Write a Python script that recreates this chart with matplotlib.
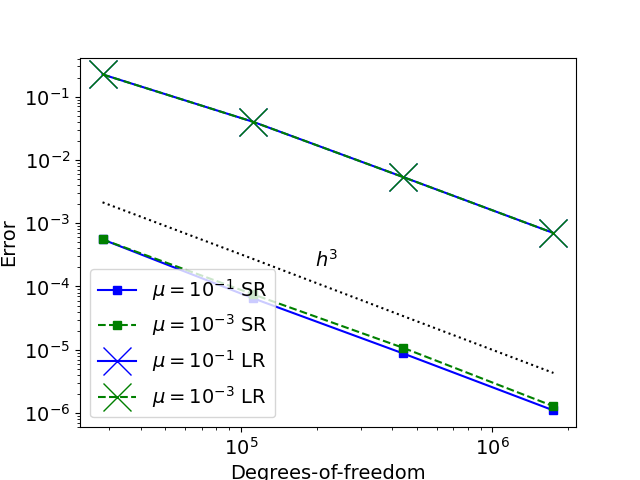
import matplotlib
matplotlib.use("Agg")
import matplotlib.pyplot as plt

plt.rcParams["font.size"] = 14

# degrees of freedom for the four refinement levels
dofs = [2.82e4, 1.12e5, 4.4e5, 1.75e6]

# short-range (SR) errors
sr_mu1 = [5.55e-4, 6.5e-5, 8.8e-6, 1.1e-6]
sr_mu3 = [5.55e-4, 7.5e-5, 1.08e-5, 1.28e-6]

# long-range (LR) errors
lr_mu1 = [0.225, 0.040, 0.0054, 7.0e-4]
lr_mu3 = [0.225, 0.040, 0.0054, 7.0e-4]

# reference slope h^3
ref_h3 = [2.14e-3, 2.72e-4, 3.43e-5, 4.3e-6]

fig, ax = plt.subplots(figsize=(6.4, 4.8), dpi=100)

ax.loglog(dofs, sr_mu1, "b-s", label=r"$\mu=10^{-1}$ SR")
ax.loglog(dofs, sr_mu3, "g--s", label=r"$\mu=10^{-3}$ SR")
ax.loglog(dofs, lr_mu1, "b-x", ms=20, label=r"$\mu=10^{-1}$ LR")
ax.loglog(dofs, lr_mu3, "g--x", ms=20, label=r"$\mu=10^{-3}$ LR")
ax.loglog(dofs, ref_h3, "k:")
ax.text(2.2e5, 2.6e-4, r"$h^3$", ha="center", va="center")

ax.set_xlabel("Degrees-of-freedom")
ax.set_ylabel("Error")
ax.legend(loc="lower left")

fig.savefig("out.png", dpi=100)
